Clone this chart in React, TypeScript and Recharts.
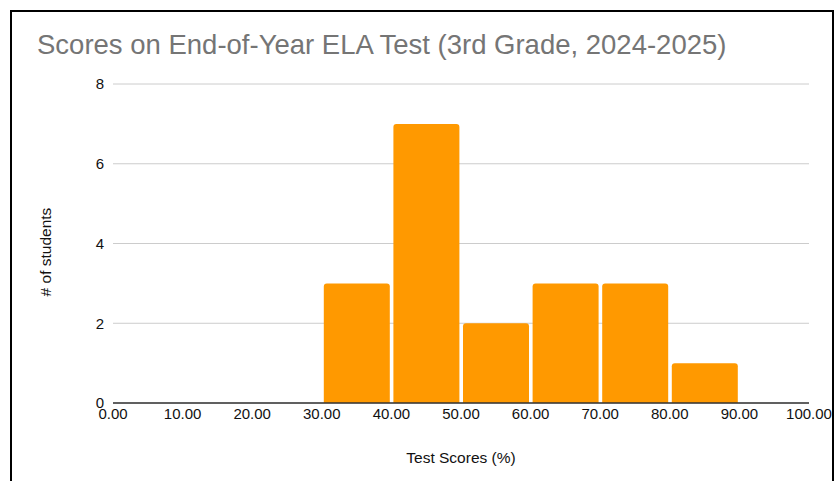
import { Bar, BarChart, CartesianGrid, Label, XAxis, YAxis } from "recharts";

const bins = ["0-10", "10-20", "20-30", "30-40", "40-50", "50-60", "60-70", "70-80", "80-90", "90-100"];
const binMids = [5, 15, 25, 35, 45, 55, 65, 75, 85, 95];
const students = [0, 0, 0, 3, 7, 2, 3, 3, 1, 0];
const scoreTicks = [0, 10, 20, 30, 40, 50, 60, 70, 80, 90, 100];
const countTicks = [0, 2, 4, 6, 8];

const data = bins.map((bin, i) => ({ bin, mid: binMids[i], students: students[i] }));

const font = "'Liberation Sans', Arial, Helvetica, sans-serif";

export default function App() {
  return (
    <div style={{ position: "absolute", left: 0, top: 0, width: 838, height: 481, overflow: "hidden", background: "#fff", fontFamily: font }}>
      <div
        style={{
          position: "absolute",
          left: 10,
          top: 10,
          width: 820,
          height: 520,
          border: "2px solid #000",
        }}
      />
      <div
        style={{
          position: "absolute",
          left: 37,
          top: 29,
          fontSize: 27.5,
          color: "#757575",
          whiteSpace: "nowrap",
        }}
      >
        Scores on End-of-Year ELA Test (3rd Grade, 2024-2025)
      </div>
      <BarChart
        width={838}
        height={481}
        data={data}
        barCategoryGap={2}
        margin={{ top: 84, right: 29, left: 0, bottom: 0 }}
        style={{ position: "absolute", left: 0, top: 0 }}
      >
        <CartesianGrid vertical={false} stroke="#cccccc" xAxisId="bin" />
        <XAxis xAxisId="bin" dataKey="bin" hide height={0} />
        <XAxis
          xAxisId="score"
          dataKey="mid"
          type="number"
          domain={[0, 100]}
          ticks={scoreTicks}
          tickFormatter={(v: number) => v.toFixed(2)}
          interval={0}
          height={78}
          tickLine={false}
          tickSize={0}
          tickMargin={5}
          axisLine={{ stroke: "#333", strokeWidth: 1.5 }}
          tick={{ fill: "#111", fontSize: 15, fontFamily: font }}
        >
          <Label
            value="Test Scores (%)"
            position="insideBottom"
            offset={18}
            style={{ fill: "#111", fontSize: 15.5, fontFamily: font }}
          />
        </XAxis>
        <YAxis
          domain={[0, 8]}
          ticks={countTicks}
          width={113}
          axisLine={false}
          tickLine={false}
          tickSize={0}
          tickMargin={9}
          tick={{ fill: "#111", fontSize: 15, fontFamily: font }}
        >
          <Label
            content={() => (
              <text
                x={45}
                y={252}
                transform="rotate(-90 45 252)"
                textAnchor="middle"
                dominantBaseline="central"
                fill="#111"
                fontSize={15.5}
                fontFamily={font}
              >
                # of students
              </text>
            )}
          />
        </YAxis>
        <Bar xAxisId="bin" dataKey="students" fill="#ff9900" radius={[3, 3, 0, 0]} isAnimationActive={false} />
      </BarChart>
    </div>
  );
}
